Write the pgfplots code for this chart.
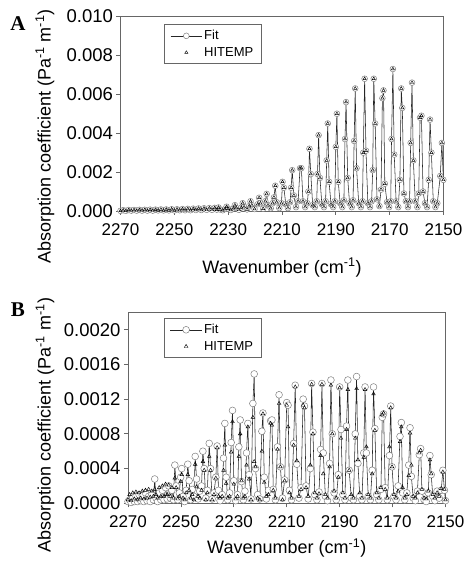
\documentclass[border=0pt]{standalone}
\usepackage{fontspec}
\setmainfont{Liberation Sans}
\newfontfamily\panelfont{Liberation Serif}
\usepackage{pgfplots}
\usepackage{pgfplotstable}
\pgfplotsset{compat=1.18}

% panel A: fit and HITEMP lie on top of each other
\pgfplotstableread{
wn k
2270.0 0.00001
2269.0 0.00004
2268.0 0.00001
2267.0 0.00005
2266.0 0.00002
2265.0 0.00005
2264.0 0.00002
2263.0 0.00006
2262.0 0.00002
2261.0 0.00006
2260.0 0.00002
2259.0 0.00007
2258.0 0.00002
2257.0 0.00007
2256.0 0.00003
2255.0 0.00008
2254.0 0.00003
2253.0 0.00008
2252.0 0.00003
2251.0 0.00009
2250.0 0.00003
2249.0 0.00009
2248.0 0.00004
2247.0 0.00010
2246.0 0.00004
2245.0 0.00011
2244.0 0.00004
2243.0 0.00012
2242.0 0.00005
2241.0 0.00013
2240.0 0.00005
2239.0 0.00014
2238.0 0.00006
2237.0 0.00015
2236.0 0.00006
2235.0 0.00016
2234.2 0.00007
2233.6 0.00018
2233.0 0.00008
2232.0 0.00004
2231.2 0.00010
2230.6 0.00022
2230.0 0.00012
2229.0 0.00005
2228.0 0.00014
2227.5 0.00030
2227.0 0.00015
2226.0 0.00006
2225.1 0.00018
2224.6 0.00040
2224.1 0.00020
2223.0 0.00008
2222.2 0.00025
2221.7 0.00050
2221.2 0.00030
2220.2 0.00010
2219.0 0.00035
2218.5 0.00068
2218.0 0.00040
2217.0 0.00012
2216.2 0.00050
2215.7 0.00088
2215.2 0.00030
2214.2 0.00014
2213.5 0.00040
2213.0 0.00070
2212.5 0.00130
2212.0 0.00045
2211.0 0.00015
2210.2 0.00040
2209.8 0.00150
2209.3 0.00120
2208.6 0.00035
2207.8 0.00015
2207.0 0.00045
2206.6 0.00120
2206.2 0.00210
2205.6 0.00080
2204.8 0.00020
2204.0 0.00050
2203.3 0.00220
2202.8 0.00220
2202.2 0.00050
2201.4 0.00020
2200.6 0.00040
2200.2 0.00100
2199.8 0.00320
2199.3 0.00190
2198.6 0.00030
2197.8 0.00020
2197.1 0.00050
2196.8 0.00190
2196.4 0.00390
2195.9 0.00170
2195.2 0.00035
2194.4 0.00020
2193.8 0.00050
2193.4 0.00260
2193.0 0.00450
2192.5 0.00150
2191.8 0.00035
2191.0 0.00020
2190.4 0.00050
2190.0 0.00330
2189.6 0.00500
2189.1 0.00150
2188.4 0.00040
2187.6 0.00020
2187.0 0.00055
2186.6 0.00370
2186.2 0.00560
2185.6 0.00170
2184.9 0.00040
2184.1 0.00020
2183.6 0.00055
2183.2 0.00360
2182.8 0.00630
2182.3 0.00220
2181.5 0.00040
2180.7 0.00020
2180.1 0.00050
2179.8 0.00300
2179.3 0.00680
2178.8 0.00310
2178.1 0.00040
2177.3 0.00020
2176.7 0.00050
2176.3 0.00210
2175.9 0.00680
2175.4 0.00450
2174.7 0.00060
2173.8 0.00025
2173.2 0.00110
2172.7 0.00580
2172.3 0.00620
2171.8 0.00140
2171.0 0.00045
2170.2 0.00020
2169.6 0.00050
2169.3 0.00370
2168.8 0.00730
2168.3 0.00290
2167.6 0.00050
2166.8 0.00020
2166.2 0.00160
2165.7 0.00630
2165.3 0.00530
2164.7 0.00090
2164.0 0.00050
2163.2 0.00020
2162.6 0.00050
2162.2 0.00350
2161.7 0.00660
2161.2 0.00260
2160.5 0.00050
2159.7 0.00020
2159.2 0.00090
2158.7 0.00480
2158.2 0.00490
2157.6 0.00100
2156.9 0.00040
2156.1 0.00020
2155.5 0.00160
2155.0 0.00470
2154.5 0.00300
2153.8 0.00050
2153.0 0.00020
2152.3 0.00040
2151.2 0.00180
2150.6 0.00350
2150.05 0.00160
}\specA

% panel B: fit, HITEMP
\pgfplotstableread{
wn fit hit
2270.0 0.00002 0.00004
2269.4 0.00004 0.00010
2268.8 0.00001 0.00003
2268.2 0.00006 0.00012
2267.6 0.00002 0.00005
2267.0 0.00008 0.00013
2266.4 0.00002 0.00004
2265.8 0.00010 0.00012
2265.2 0.00003 0.00006
2264.6 0.00009 0.00014
2264.0 0.00002 0.00005
2263.4 0.00012 0.00015
2262.8 0.00003 0.00006
2262.2 0.00008 0.00016
2261.6 0.00002 0.00007
2261.0 0.00010 0.00014
2260.4 0.00004 0.00008
2259.9 0.00028 0.00016
2259.4 0.00006 0.00010
2258.8 0.00002 0.00006
2258.2 0.00012 0.00018
2257.6 0.00004 0.00008
2257.0 0.00015 0.00020
2256.4 0.00004 0.00008
2255.8 0.00018 0.00022
2255.2 0.00005 0.00010
2254.6 0.00020 0.00021
2254.0 0.00006 0.00008
2253.4 0.00015 0.00018
2252.8 0.00004 0.00006
2252.3 0.00044 0.00029
2251.8 0.00020 0.00018
2251.2 0.00004 0.00005
2250.6 0.00012 0.00008
2250.1 0.00030 0.00025
2249.7 0.00040 0.00033
2249.2 0.00008 0.00006
2248.6 0.00002 0.00004
2248.0 0.00015 0.00012
2247.4 0.00045 0.00033
2246.9 0.00026 0.00015
2246.3 0.00004 0.00006
2245.7 0.00016 0.00010
2245.1 0.00008 0.00004
2244.6 0.00054 0.00045
2244.1 0.00028 0.00019
2243.5 0.00005 0.00008
2242.9 0.00014 0.00006
2242.2 0.00020 0.00015
2241.7 0.00060 0.00048
2241.2 0.00040 0.00038
2240.6 0.00006 0.00004
2240.0 0.00015 0.00012
2239.3 0.00069 0.00054
2238.8 0.00040 0.00038
2238.2 0.00005 0.00004
2237.5 0.00012 0.00010
2236.8 0.00030 0.00029
2236.3 0.00066 0.00064
2235.8 0.00015 0.00008
2235.2 0.00003 0.00006
2234.4 0.00010 0.00008
2233.9 0.00052 0.00038
2233.4 0.00092 0.00067
2232.9 0.00030 0.00023
2232.3 0.00004 0.00006
2231.6 0.00012 0.00008
2231.0 0.00070 0.00059
2230.5 0.00107 0.00094
2230.0 0.00026 0.00022
2229.3 0.00003 0.00005
2228.6 0.00010 0.00008
2228.1 0.00065 0.00054
2227.6 0.00096 0.00080
2227.1 0.00025 0.00026
2226.4 0.00004 0.00006
2225.8 0.00014 0.00008
2225.2 0.00058 0.00044
2224.7 0.00092 0.00088
2224.2 0.00033 0.00028
2223.5 0.00005 0.00004
2222.8 0.00115 0.00099
2222.3 0.00149 0.00048
2221.8 0.00040 0.00042
2221.0 0.00010 0.00006
2220.2 0.00005 0.00004
2219.4 0.00083 0.00060
2219.0 0.00104 0.00103
2218.5 0.00030 0.00024
2217.7 0.00005 0.00008
2216.9 0.00015 0.00010
2216.1 0.00095 0.00092
2215.6 0.00096 0.00090
2215.1 0.00016 0.00015
2214.3 0.00004 0.00006
2213.5 0.00065 0.00062
2212.9 0.00125 0.00115
2212.4 0.00042 0.00042
2211.6 0.00006 0.00004
2210.8 0.00027 0.00026
2210.0 0.00116 0.00113
2209.5 0.00113 0.00088
2209.0 0.00015 0.00012
2208.2 0.00004 0.00006
2207.4 0.00069 0.00067
2206.8 0.00136 0.00134
2206.2 0.00045 0.00049
2205.4 0.00006 0.00008
2204.6 0.00018 0.00016
2203.8 0.00120 0.00113
2203.3 0.00112 0.00110
2202.7 0.00020 0.00018
2201.9 0.00005 0.00008
2201.1 0.00040 0.00044
2200.6 0.00138 0.00137
2200.1 0.00082 0.00080
2199.4 0.00010 0.00012
2198.6 0.00004 0.00006
2197.8 0.00013 0.00011
2197.2 0.00062 0.00055
2196.7 0.00138 0.00137
2196.2 0.00058 0.00034
2195.4 0.00008 0.00010
2194.6 0.00003 0.00006
2193.8 0.00046 0.00042
2193.3 0.00142 0.00136
2192.8 0.00080 0.00080
2192.1 0.00012 0.00014
2191.3 0.00004 0.00006
2190.5 0.00033 0.00030
2190.0 0.00134 0.00133
2189.5 0.00085 0.00075
2188.8 0.00010 0.00012
2188.0 0.00004 0.00006
2187.4 0.00089 0.00085
2186.9 0.00142 0.00131
2186.4 0.00038 0.00038
2185.6 0.00006 0.00010
2184.8 0.00004 0.00006
2184.1 0.00080 0.00075
2183.6 0.00146 0.00132
2183.1 0.00046 0.00050
2182.4 0.00008 0.00012
2181.6 0.00004 0.00006
2180.9 0.00058 0.00053
2180.4 0.00134 0.00131
2179.9 0.00058 0.00065
2179.2 0.00008 0.00010
2178.4 0.00004 0.00006
2177.7 0.00038 0.00034
2177.2 0.00134 0.00126
2176.7 0.00086 0.00084
2176.0 0.00010 0.00012
2175.2 0.00004 0.00006
2174.4 0.00016 0.00018
2173.9 0.00099 0.00102
2173.4 0.00103 0.00104
2172.8 0.00018 0.00016
2172.0 0.00004 0.00006
2171.2 0.00055 0.00065
2170.7 0.00112 0.00110
2170.2 0.00042 0.00042
2169.5 0.00008 0.00010
2168.7 0.00004 0.00006
2167.9 0.00020 0.00014
2167.2 0.00077 0.00071
2166.7 0.00093 0.00088
2166.2 0.00012 0.00018
2165.4 0.00004 0.00006
2164.6 0.00012 0.00010
2163.9 0.00044 0.00032
2163.4 0.00087 0.00081
2162.9 0.00031 0.00044
2162.2 0.00006 0.00008
2161.4 0.00003 0.00006
2160.6 0.00014 0.00012
2159.9 0.00056 0.00058
2159.4 0.00063 0.00061
2158.9 0.00014 0.00016
2158.1 0.00004 0.00006
2157.3 0.00002 0.00005
2156.5 0.00012 0.00014
2155.9 0.00055 0.00050
2155.4 0.00033 0.00034
2154.8 0.00008 0.00010
2154.0 0.00003 0.00006
2153.2 0.00014 0.00012
2152.4 0.00006 0.00008
2151.6 0.00015 0.00017
2151.0 0.00038 0.00036
2150.4 0.00015 0.00016
2150.0 0.00003 0.00004
}\specB

\colorlet{frame}{black!60}
\newcommand\labfont{\fontsize{18}{18}\selectfont}
\pgfplotsset{
  spec/.style={
    scale only axis, x dir=reverse,
    xmin=2150, xmax=2270, xtick={2150,2170,...,2270},
    tick align=outside, tick pos=left, major tick length=4pt,
    axis line style={frame, line width=0.7pt},
    tick style={frame, line width=0.7pt},
    scaled y ticks=false, clip mode=individual,
    /pgf/number format/assume math mode=true,
    xticklabel style={/pgf/number format/1000 sep={}, yshift=-5pt, font=\fontsize{17}{17}\selectfont},
    yticklabel style={font=\fontsize{18.5}{18.5}\selectfont},
    legend cell align=left,
    legend style={draw=frame, line width=0.6pt, font=\fontsize{13}{13}\selectfont,
      anchor=north west, inner xsep=6pt, inner ysep=4pt, row sep=2pt},
  },
  wideleg/.style={legend image code/.code={
    \draw[mark repeat=2, mark phase=2, ##1] plot coordinates {(0cm,0cm) (0.55cm,0cm) (1.1cm,0cm)};}},
  fitline/.style={black!85, line width=0.55pt, mark=*, wideleg,
    mark options={fill=white, draw=black!50, line width=0.5pt}},
  hitmark/.style={only marks, mark=triangle, wideleg, mark options={black, line width=0.45pt}},
}

\begin{document}
\begin{tikzpicture}
\path[use as bounding box] (0,0) rectangle (467pt,567pt);

\begin{axis}[spec, at={(120.5pt,356pt)}, anchor=south west,
  width=323pt, height=194.5pt,
  ymin=0, ymax=0.010, ytick={0,0.002,...,0.010},
  yticklabel style={/pgf/number format/fixed, /pgf/number format/fixed zerofill,
    /pgf/number format/precision=3},
  xlabel={Wavenumber (cm\textsuperscript{-1})},
  ylabel={Absorption coefficient (Pa\textsuperscript{-1} m\textsuperscript{-1})},
  every axis x label/.style={at={(axis description cs:0.5,-0.29)}, anchor=center, font=\labfont},
  every axis y label/.style={at={(axis description cs:-0.234,0.383)}, anchor=center, rotate=90, font=\labfont},
  legend style={at={(axis description cs:0.135,0.961)}}]
  \addplot[fitline, mark size=2.9pt] table[x=wn, y=k] {\specA};
  \addlegendentry{Fit}
  \addplot[hitmark, mark size=1.8pt] table[x=wn, y=k] {\specA};
  \addlegendentry{HITEMP}
\end{axis}

\begin{axis}[spec, at={(128pt,63.7pt)}, anchor=south west,
  width=317.5pt, height=191pt,
  ymin=0, ymax=0.0022, ytick={0,0.0004,...,0.0020},
  yticklabel style={/pgf/number format/fixed, /pgf/number format/fixed zerofill,
    /pgf/number format/precision=4},
  xlabel={Wavenumber (cm\textsuperscript{-1})},
  ylabel={Absorption coefficient (Pa\textsuperscript{-1} m\textsuperscript{-1})},
  every axis x label/.style={at={(axis description cs:0.5,-0.234)}, anchor=center, font=\labfont},
  every axis y label/.style={at={(axis description cs:-0.261,0.41)}, anchor=center, rotate=90, font=\labfont},
  legend style={at={(axis description cs:0.113,0.97)}}]
  \addplot[fitline, mark size=3.4pt] table[x=wn, y=fit] {\specB};
  \addlegendentry{Fit}
  \addplot[hitmark, mark size=2.1pt] table[x=wn, y=hit] {\specB};
  \addlegendentry{HITEMP}
\end{axis}

\node[font=\panelfont\bfseries\fontsize{21}{21}\selectfont] at (18pt,543pt) {A};
\node[font=\panelfont\bfseries\fontsize{21}{21}\selectfont] at (18pt,257pt) {B};
\end{tikzpicture}
\end{document}
